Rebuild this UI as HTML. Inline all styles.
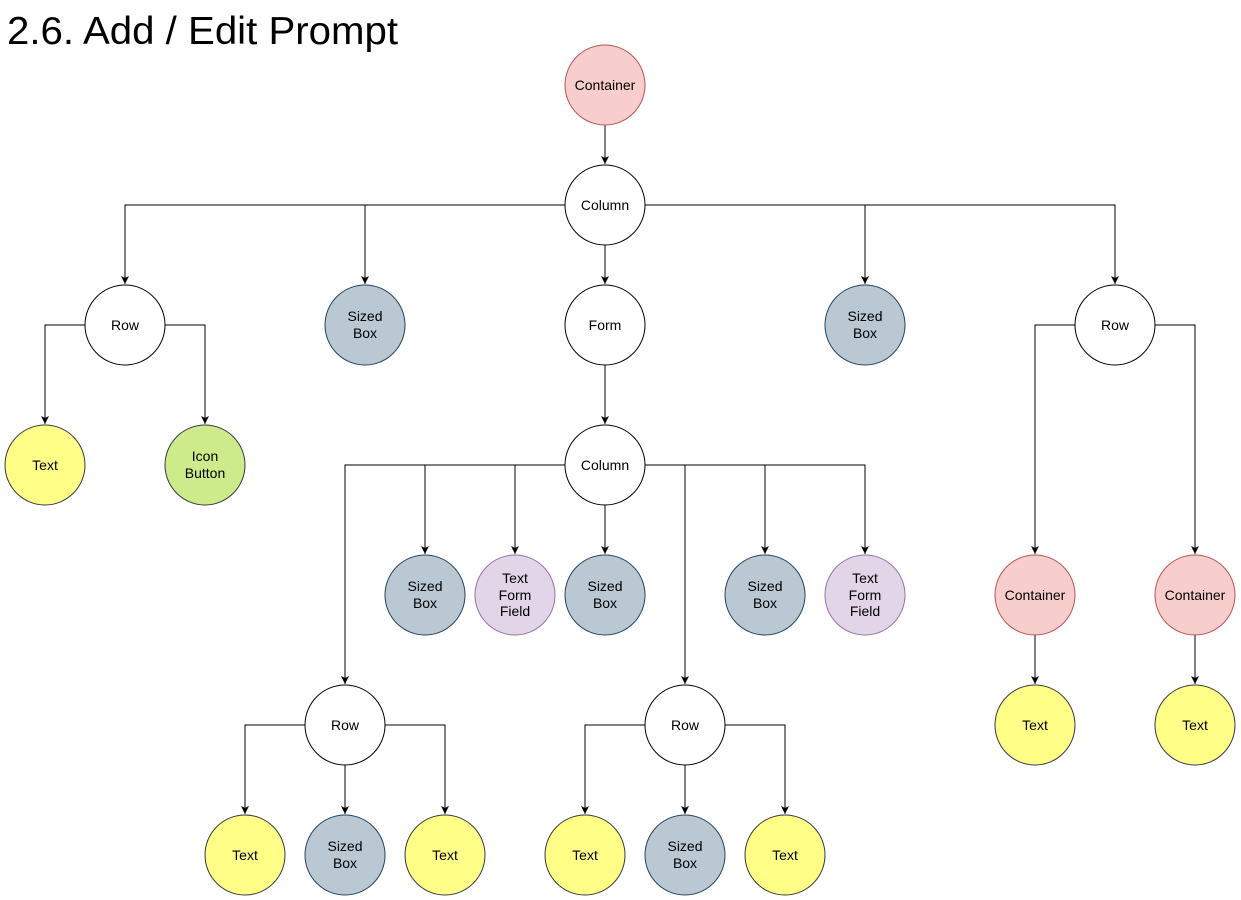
<!DOCTYPE html>
<html><head><meta charset="utf-8"><style>
html,body{margin:0;padding:0;background:#fff;}
svg{display:block;font-family:"Liberation Sans",Arial,sans-serif;}
</style></head><body>
<svg width="1241" height="900" viewBox="0 0 1241 900" xmlns="http://www.w3.org/2000/svg">
<defs><marker id="a" markerWidth="10" markerHeight="10" refX="9" refY="5" orient="auto" markerUnits="userSpaceOnUse"><path d="M1,1 L9,5 L1,9 L3,5 Z" fill="#000"/></marker></defs>
<text x="7" y="44" font-size="39" fill="#000" textLength="391" lengthAdjust="spacingAndGlyphs">2.6. Add / Edit Prompt</text>
<g fill="none" stroke="#000" stroke-width="1" marker-end="url(#a)">
<path d="M605,125 V164"/>
<path d="M565,205 H125 V284"/>
<path d="M565,205 H365 V284"/>
<path d="M605,245 V284"/>
<path d="M645,205 H865 V284"/>
<path d="M645,205 H1115 V284"/>
<path d="M85,325 H45 V424"/>
<path d="M165,325 H205 V424"/>
<path d="M605,365 V424"/>
<path d="M565,465 H345 V684"/>
<path d="M565,465 H425 V554"/>
<path d="M565,465 H515 V554"/>
<path d="M605,505 V554"/>
<path d="M645,465 H685 V684"/>
<path d="M645,465 H765 V554"/>
<path d="M645,465 H865 V554"/>
<path d="M305,725 H245 V814"/>
<path d="M345,765 V814"/>
<path d="M385,725 H445 V814"/>
<path d="M645,725 H585 V814"/>
<path d="M685,765 V814"/>
<path d="M725,725 H785 V814"/>
<path d="M1075,325 H1035 V554"/>
<path d="M1155,325 H1195 V554"/>
<path d="M1035,635 V684"/>
<path d="M1195,635 V684"/>
</g>
<g font-size="14" text-anchor="middle" fill="#000">
<g fill="#fff" stroke="#000">
<circle cx="605" cy="205" r="40"/><circle cx="125" cy="325" r="40"/><circle cx="605" cy="325" r="40"/>
<circle cx="1115" cy="325" r="40"/><circle cx="605" cy="465" r="40"/><circle cx="345" cy="725" r="40"/><circle cx="685" cy="725" r="40"/>
</g>
<g fill="#f8cecc" stroke="#b85450">
<circle cx="605" cy="85" r="40"/><circle cx="1035" cy="595" r="40"/><circle cx="1195" cy="595" r="40"/>
</g>
<g fill="#bac8d3" stroke="#23445d">
<circle cx="365" cy="325" r="40"/><circle cx="865" cy="325" r="40"/><circle cx="425" cy="595" r="40"/>
<circle cx="605" cy="595" r="40"/><circle cx="765" cy="595" r="40"/><circle cx="345" cy="855" r="40"/><circle cx="685" cy="855" r="40"/>
</g>
<g fill="#ffff88" stroke="#36393d">
<circle cx="45" cy="465" r="40"/><circle cx="245" cy="855" r="40"/><circle cx="445" cy="855" r="40"/>
<circle cx="585" cy="855" r="40"/><circle cx="785" cy="855" r="40"/><circle cx="1035" cy="725" r="40"/><circle cx="1195" cy="725" r="40"/>
</g>
<circle cx="205" cy="465" r="40" fill="#cdeb8b" stroke="#36393d"/>
<g fill="#e1d5e7" stroke="#9673a6">
<circle cx="515" cy="595" r="40"/><circle cx="865" cy="595" r="40"/>
</g>
<text x="605" y="90">Container</text>
<text x="605" y="210">Column</text>
<text x="125" y="330">Row</text>
<text x="365" y="321">Sized</text><text x="365" y="338">Box</text>
<text x="605" y="330">Form</text>
<text x="865" y="321">Sized</text><text x="865" y="338">Box</text>
<text x="1115" y="330">Row</text>
<text x="45" y="470">Text</text>
<text x="205" y="461">Icon</text><text x="205" y="478">Button</text>
<text x="605" y="470">Column</text>
<text x="425" y="591">Sized</text><text x="425" y="608">Box</text>
<text x="515" y="583">Text</text><text x="515" y="600">Form</text><text x="515" y="616">Field</text>
<text x="605" y="591">Sized</text><text x="605" y="608">Box</text>
<text x="765" y="591">Sized</text><text x="765" y="608">Box</text>
<text x="865" y="583">Text</text><text x="865" y="600">Form</text><text x="865" y="616">Field</text>
<text x="1035" y="600">Container</text>
<text x="1195" y="600">Container</text>
<text x="345" y="730">Row</text>
<text x="685" y="730">Row</text>
<text x="1035" y="730">Text</text>
<text x="1195" y="730">Text</text>
<text x="245" y="860">Text</text>
<text x="345" y="851">Sized</text><text x="345" y="868">Box</text>
<text x="445" y="860">Text</text>
<text x="585" y="860">Text</text>
<text x="685" y="851">Sized</text><text x="685" y="868">Box</text>
<text x="785" y="860">Text</text>
</g>
</svg>
</body></html>
